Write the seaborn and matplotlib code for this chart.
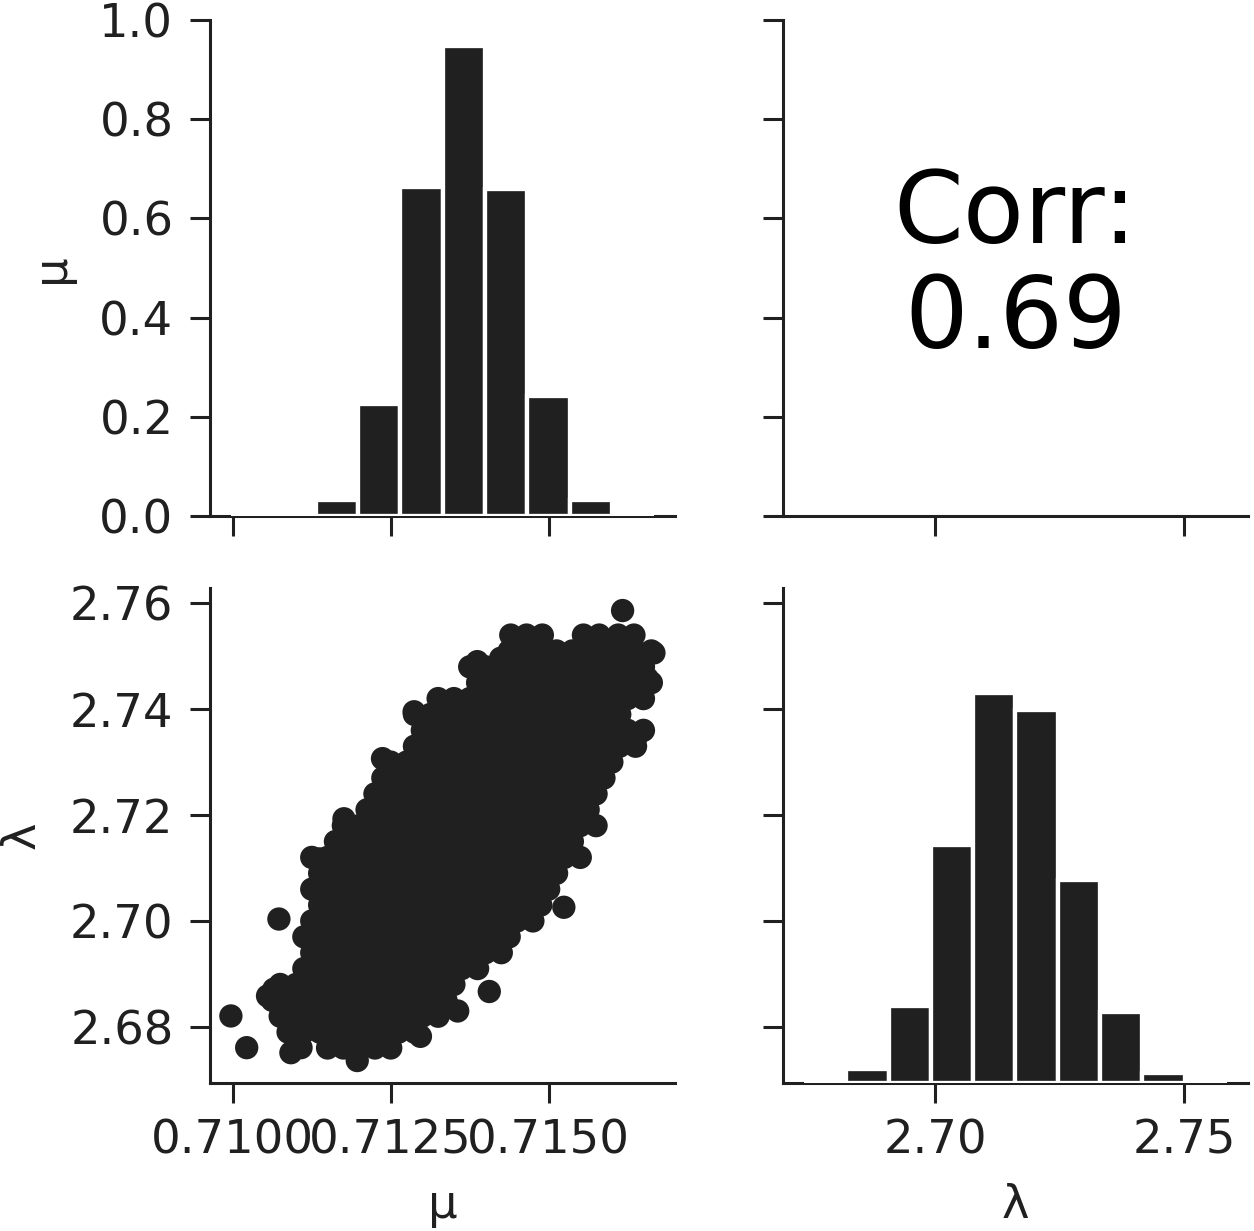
import numpy as np
import pandas as pd
import matplotlib
matplotlib.use("Agg")
import matplotlib.pyplot as plt
import seaborn as sns

# diagonal histograms: bin edges and bar heights (fraction of panel height)
mu_edges = [0.70997, 0.71064, 0.71131, 0.71198, 0.71265, 0.71332,
            0.71399, 0.71466, 0.71533, 0.71600, 0.71667]
mu_heights = [0.0005, 0.002, 0.033, 0.226, 0.664, 0.947, 0.659, 0.243, 0.032, 0.0005]

lam_edges = [2.67363, 2.68213, 2.69063, 2.69913, 2.70763, 2.71613,
             2.72463, 2.73313, 2.74163, 2.75013, 2.75863]
lam_heights = [0.0005, 0.029, 0.156, 0.480, 0.787, 0.754, 0.411, 0.144, 0.021, 0.0005]

# scatter cloud, read row by row (lambda level -> mu positions of the dots)
lam_rows = [2.676, 2.679, 2.682, 2.685, 2.688, 2.691, 2.694, 2.697, 2.700,
            2.703, 2.706, 2.709, 2.712, 2.715, 2.718, 2.721, 2.724, 2.727,
            2.730, 2.733, 2.736, 2.739, 2.742, 2.745, 2.748, 2.751, 2.754]
mu_rows = [
    [0.71150, 0.71175, 0.71200, 0.71225, 0.71250],
    [0.710875, 0.711125, 0.711375, 0.711625, 0.711875, 0.712125, 0.712375, 0.712625, 0.712875],
    [0.71075, 0.71100, 0.71125, 0.71150, 0.71175, 0.71200, 0.71225, 0.71250, 0.71275, 0.71300,
     0.71325],
    [0.710625, 0.710875, 0.711125, 0.711375, 0.711625, 0.711875, 0.712125, 0.712375, 0.712625,
     0.712875, 0.713125, 0.713375],
    [0.71075, 0.71100, 0.71125, 0.71150, 0.71175, 0.71200, 0.71225, 0.71250, 0.71275, 0.71300,
     0.71325, 0.71350],
    [0.711125, 0.711375, 0.711625, 0.711875, 0.712125, 0.712375, 0.712625, 0.712875, 0.713125,
     0.713375, 0.713625, 0.713875],
    [0.71125, 0.71150, 0.71175, 0.71200, 0.71225, 0.71250, 0.71275, 0.71300, 0.71325, 0.71350,
     0.71375, 0.71400, 0.71425],
    [0.711125, 0.711375, 0.711625, 0.711875, 0.712125, 0.712375, 0.712625, 0.712875, 0.713125,
     0.713375, 0.713625, 0.713875, 0.714125, 0.714375],
    [0.71125, 0.71150, 0.71175, 0.71200, 0.71225, 0.71250, 0.71275, 0.71300, 0.71325, 0.71350,
     0.71375, 0.71400, 0.71425, 0.71450, 0.71475],
    [0.711375, 0.711625, 0.711875, 0.712125, 0.712375, 0.712625, 0.712875, 0.713125, 0.713375,
     0.713625, 0.713875, 0.714125, 0.714375, 0.714625, 0.714875],
    [0.71125, 0.71150, 0.71175, 0.71200, 0.71225, 0.71250, 0.71275, 0.71300, 0.71325, 0.71350,
     0.71375, 0.71400, 0.71425, 0.71450, 0.71475, 0.71500],
    [0.711375, 0.711625, 0.711875, 0.712125, 0.712375, 0.712625, 0.712875, 0.713125, 0.713375,
     0.713625, 0.713875, 0.714125, 0.714375, 0.714625, 0.714875, 0.715125],
    [0.71125, 0.71150, 0.71175, 0.71200, 0.71225, 0.71250, 0.71275, 0.71300, 0.71325, 0.71350,
     0.71375, 0.71400, 0.71425, 0.71450, 0.71475, 0.71500, 0.71525, 0.71550],
    [0.711625, 0.711875, 0.712125, 0.712375, 0.712625, 0.712875, 0.713125, 0.713375, 0.713625,
     0.713875, 0.714125, 0.714375, 0.714625, 0.714875, 0.715125, 0.715375],
    [0.71175, 0.71200, 0.71225, 0.71250, 0.71275, 0.71300, 0.71325, 0.71350, 0.71375, 0.71400,
     0.71425, 0.71450, 0.71475, 0.71500, 0.71525, 0.71550, 0.71575],
    [0.712125, 0.712375, 0.712625, 0.712875, 0.713125, 0.713375, 0.713625, 0.713875, 0.714125,
     0.714375, 0.714625, 0.714875, 0.715125, 0.715375, 0.715625],
    [0.71225, 0.71250, 0.71275, 0.71300, 0.71325, 0.71350, 0.71375, 0.71400, 0.71425, 0.71450,
     0.71475, 0.71500, 0.71525, 0.71550, 0.71575],
    [0.712375, 0.712625, 0.712875, 0.713125, 0.713375, 0.713625, 0.713875, 0.714125, 0.714375,
     0.714625, 0.714875, 0.715125, 0.715375, 0.715625, 0.715875],
    [0.71250, 0.71275, 0.71300, 0.71325, 0.71350, 0.71375, 0.71400, 0.71425, 0.71450, 0.71475,
     0.71500, 0.71525, 0.71550, 0.71575, 0.71600],
    [0.712875, 0.713125, 0.713375, 0.713625, 0.713875, 0.714125, 0.714375, 0.714625, 0.714875,
     0.715125, 0.715375, 0.715625, 0.715875, 0.716125, 0.716375],
    [0.71300, 0.71325, 0.71350, 0.71375, 0.71400, 0.71425, 0.71450, 0.71475, 0.71500, 0.71525,
     0.71550, 0.71575, 0.71600, 0.71625, 0.71650],
    [0.712875, 0.713125, 0.713375, 0.713625, 0.713875, 0.714125, 0.714375, 0.714625, 0.714875,
     0.715125, 0.715375, 0.715625, 0.715875, 0.716125],
    [0.71325, 0.71350, 0.71375, 0.71400, 0.71425, 0.71450, 0.71475, 0.71500, 0.71525, 0.71550,
     0.71575, 0.71600, 0.71625, 0.71650],
    [0.713875, 0.714125, 0.714375, 0.714625, 0.714875, 0.715125, 0.715375, 0.715625, 0.715875,
     0.716125, 0.716375, 0.716625],
    [0.71375, 0.71400, 0.71425, 0.71450, 0.71475, 0.71500, 0.71525, 0.71550, 0.71575, 0.71600,
     0.71625, 0.71650],
    [0.714375, 0.714625, 0.714875, 0.715125, 0.715375, 0.715625, 0.715875, 0.716125, 0.716375,
     0.716625],
    [0.71440, 0.71465, 0.71490, 0.71555, 0.71580, 0.71610, 0.71635],
]

# isolated dots around the edge of the cloud
mu_extra = [0.70997, 0.71022, 0.71073, 0.71524, 0.71406, 0.71356, 0.71176, 0.71237,
            0.71287, 0.71387, 0.71617, 0.716666, 0.71197, 0.71092, 0.71108, 0.71055,
            0.71065, 0.71297, 0.71656, 0.71640, 0.71424, 0.71137]
lam_extra = [2.68205, 2.67606, 2.70036, 2.70258, 2.68667, 2.68299, 2.71930, 2.73066,
             2.73951, 2.74898, 2.75863, 2.75063, 2.67363, 2.67511, 2.67606, 2.68583,
             2.68710, 2.67820, 2.74583, 2.73508, 2.74962, 2.71172]

corr_label = "Corr:\n0.69"
mu_ticks = [0.7100, 0.7125, 0.7150]
mu_tick_labels = ["0.7100", "0.7125", "0.7150"]
lam_yticks = [2.68, 2.70, 2.72, 2.74, 2.76]
lam_ytick_labels = ["2.68", "2.70", "2.72", "2.74", "2.76"]
lam_xticks = [2.70, 2.75]
lam_xtick_labels = ["2.70", "2.75"]
dens_ticks = [0.0, 0.2, 0.4, 0.6, 0.8, 1.0]
dens_tick_labels = ["0.0", "0.2", "0.4", "0.6", "0.8", "1.0"]

dark = "#202020"

sns.set_theme(style="ticks", rc={
    "axes.linewidth": 2.2,
    "axes.edgecolor": dark,
    "xtick.major.width": 2.2,
    "ytick.major.width": 2.2,
    "xtick.major.size": 14.4,
    "ytick.major.size": 14.4,
    "xtick.major.pad": 11,
    "ytick.major.pad": 12,
    "xtick.labelsize": 33.5,
    "ytick.labelsize": 33.5,
    "axes.labelsize": 33.5,
    "xtick.color": dark,
    "ytick.color": dark,
    "text.color": dark,
    "axes.labelcolor": dark,
})
plt.rcParams["font.family"] = ["DejaVu Sans"]

# build the scatter table from the rows
pts_mu = []
pts_lam = []
for lam, row in zip(lam_rows, mu_rows):
    pts_mu.extend(row)
    pts_lam.extend([lam] * len(row))
pts_mu.extend(mu_extra)
pts_lam.extend(lam_extra)
df = pd.DataFrame({"mu": pts_mu, "lam": pts_lam})

fig = plt.figure(figsize=(12.54, 12.31), dpi=100)
ax_mm = fig.add_axes([0.1675, 0.5808, 0.3708, 0.4029])
ax_corr = fig.add_axes([0.6244, 0.5808, 0.3708, 0.4029], sharey=ax_mm)
ax_sc = fig.add_axes([0.1675, 0.1202, 0.3708, 0.4021], sharex=ax_mm)
ax_ll = fig.add_axes([0.6244, 0.1202, 0.3708, 0.4021], sharex=ax_corr, sharey=ax_sc)

# scatter panel
sns.scatterplot(data=df, x="mu", y="lam", ax=ax_sc, color=dark, s=282,
                linewidth=0, edgecolor="none", alpha=1)

# diagonal histograms live on twin axes, like PairGrid does
tw_mu = ax_mm.twinx()
tw_lam = ax_ll.twinx()
mu_centers = (np.array(mu_edges[:-1]) + np.array(mu_edges[1:])) / 2
lam_centers = (np.array(lam_edges[:-1]) + np.array(lam_edges[1:])) / 2
sns.histplot(x=mu_centers, weights=mu_heights, bins=mu_edges, ax=tw_mu,
             color=dark, alpha=1, edgecolor="white", linewidth=3.1)
sns.histplot(x=lam_centers, weights=lam_heights, bins=lam_edges, ax=tw_lam,
             color=dark, alpha=1, edgecolor="white", linewidth=3.1)
for tw in (tw_mu, tw_lam):
    tw.set_ylim(0, 1)
    tw.set_axis_off()

# correlation text
ax_corr.text(0.5, 0.5, corr_label, transform=ax_corr.transAxes, ha="center",
             va="center", fontsize=72, color="black", linespacing=1.1)

# limits and ticks
ax_sc.set_xlim(0.70964, 0.71700)
ax_sc.set_ylim(2.66938, 2.76288)
ax_ll.set_xlim(2.66938, 2.76288)
ax_mm.set_ylim(0, 1)

ax_sc.set_xticks(mu_ticks, mu_tick_labels)
ax_sc.set_yticks(lam_yticks, lam_ytick_labels)
ax_ll.set_xticks(lam_xticks, lam_xtick_labels)
ax_mm.set_yticks(dens_ticks, dens_tick_labels)

ax_mm.tick_params(labelbottom=False)
ax_corr.tick_params(labelbottom=False, labelleft=False)
ax_ll.tick_params(labelleft=False)

ax_mm.set_xlabel("")
ax_corr.set_xlabel("")
ax_corr.set_ylabel("")
ax_ll.set_ylabel("")
ax_mm.set_ylabel("μ", labelpad=18)
ax_sc.set_ylabel("λ", labelpad=18)
ax_sc.set_xlabel("μ", labelpad=14)
ax_ll.set_xlabel("λ", labelpad=14)

for ax in (ax_mm, ax_corr, ax_sc, ax_ll):
    sns.despine(ax=ax)

fig.savefig("out.png", dpi=100, facecolor="white")
